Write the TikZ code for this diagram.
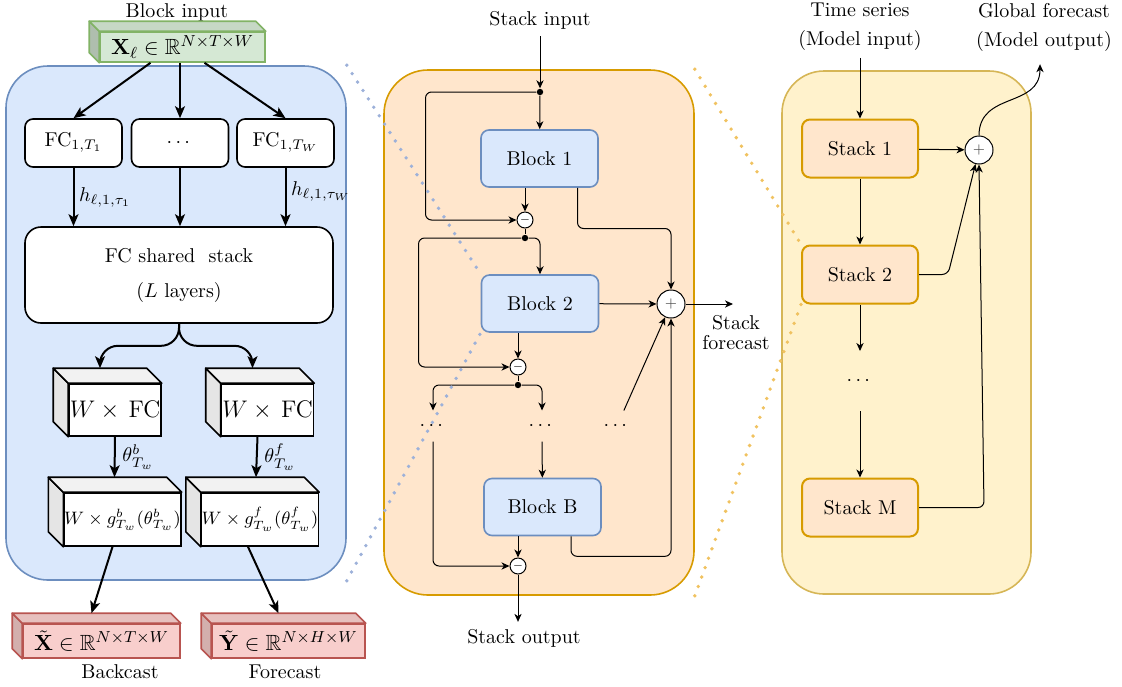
\documentclass[tikz,border=0pt]{standalone}
\usepackage[dvipsnames]{xcolor}
\usepackage{amsmath,amssymb}
\usetikzlibrary{arrows.meta,positioning}

\definecolor{bluefill}{HTML}{DAE8FC}
\definecolor{blueline}{HTML}{6C8EBF}
\definecolor{orangefill}{HTML}{FFE6CC}
\definecolor{orangeline}{HTML}{D79B00}
\definecolor{yellowfill}{HTML}{FFF2CC}
\definecolor{yellowline}{HTML}{D6B656}
\definecolor{greenfill}{HTML}{D5E8D4}
\definecolor{greenline}{HTML}{82B366}
\definecolor{redfill}{HTML}{F8CECC}
\definecolor{redline}{HTML}{B85450}
\definecolor{bluedot}{HTML}{9DB1D9}
\definecolor{orangedot}{HTML}{F0C260}

\begin{document}
\begin{tikzpicture}[x=0.5pt,y=-0.5pt,line width=0.5pt,
    >={Stealth[length=4pt,width=3.6pt,inset=1.2pt]},
    panel/.style={draw,rounded corners=21pt,line width=0.8pt,inner sep=0pt},
    fc node/.style={draw,fill=white,line width=0.8pt,rounded corners=4pt,minimum width=48.5pt,minimum height=24pt,inner sep=0pt},
    cube front/.style={draw,fill=white,line width=0.8pt,inner sep=0pt,minimum width=#1},
    block node/.style={draw=blueline,fill=bluefill,line width=0.8pt,rounded corners=4pt,minimum width=58.5pt,minimum height=28.5pt},
    stack node/.style={draw=orangeline,fill=orangefill,line width=1pt,rounded corners=4pt,minimum width=58pt,minimum height=29pt},
    diff node/.style={circle,draw,fill=white,inner sep=0pt,minimum size=8pt,font=\tiny},
    sum node/.style={circle,draw,fill=white,inner sep=0pt,minimum size=14pt,font=\scriptsize,text=black!70},
    joint node/.style={circle,fill=black,inner sep=0pt,minimum size=3.2pt},
    dots node/.style={inner sep=0pt,minimum height=15pt,minimum width=10pt},
    big arrow/.style={-{Stealth[length=6pt,width=5pt,inset=1.5pt]},line width=1pt},
    dotted link/.style={line width=1.9pt,line cap=round,dash pattern=on 0pt off 5pt}]

\useasboundingbox (0,0) rectangle (1122,686);

% panels
\node[panel,draw=blueline,fill=bluefill,minimum width=170pt,minimum height=257pt] (lp) at (176,323) {};
\node[panel,draw=orangeline,fill=orangefill,minimum width=155pt,minimum height=262.5pt,rounded corners=22pt] (mp) at (539,332.5) {};
\node[panel,draw=yellowline,fill=yellowfill,minimum width=124.5pt,minimum height=261.5pt] (rp) at (906.5,332.5) {};

% block (left)
\node (bil) at (177,12) {Block input};
\node[cube front=82.5pt,minimum height=15pt,draw=greenline,fill=greenfill,font=\fontsize{11}{13}\selectfont] (bin) at (182.5,47) {$\mathbf{X}_\ell\in\mathbb{R}^{N\times T\times W}$};
\node[fc node] (fc1) at (73.5,143) {$\mathrm{FC}_{1,T_1}$};
\node[fc node] (fcd) at (180,143) {$\cdots$};
\node[fc node] (fcw) at (285.5,143) {$\mathrm{FC}_{1,T_W}$};
\node[fc node,rounded corners=8pt,minimum width=154pt,minimum height=48pt,align=center] (shared) at (179,275) {FC shared~ stack\\[5.5pt]($L$ layers)};
\node[cube front=46pt,minimum height=26pt,font=\large] (wfcb) at (115,410) {$W\times{}$\,FC};
\node[cube front=46pt,minimum height=26pt,font=\large] (wfcf) at (267.5,410) {$W\times{}$\,FC};
\node[cube front=55.5pt,minimum height=26.5pt,font=\small] (gb) at (122.5,519.5) {$W\times g^b_{T_w}(\theta^b_{T_w})$};
\node[cube front=58pt,minimum height=26.5pt,font=\small] (gf) at (260,519.5) {$W\times g^f_{T_w}(\theta^f_{T_w})$};
\node[cube front=78.5pt,minimum height=17pt,draw=redline,fill=redfill,font=\fontsize{11}{13}\selectfont] (xtil) at (101.5,641) {$\tilde{\mathbf{X}}\in\mathbb{R}^{N\times T\times W}$};
\node[cube front=76.5pt,minimum height=17pt,draw=redline,fill=redfill,font=\fontsize{11}{13}\selectfont] (ytil) at (288.5,641) {$\tilde{\mathbf{Y}}\in\mathbb{R}^{N\times H\times W}$};
\node (bcl) at (120,672) {Backcast};
\node (fcl) at (285,672) {Forecast};

\foreach \n/\d/\sc/\tc/\lc in {bin/10/greenfill!82!black/greenfill!93!black/greenline,
    wfcb/15/gray!20/gray!10/black, wfcf/15/gray!20/gray!10/black,
    gb/15/gray!20/gray!10/black, gf/15/gray!20/gray!10/black,
    xtil/10/redfill!85!black/redfill!93!black/redline, ytil/10/redfill!85!black/redfill!93!black/redline}{
  \draw[draw=\lc,fill=\sc,line width=0.8pt,line join=round] (\n.north west) -- ++(-\d,-\d) -- ([shift={(-\d,-\d)}]\n.south west) -- (\n.south west) -- cycle;
  \draw[draw=\lc,fill=\tc,line width=0.8pt,line join=round] (\n.north west) -- ++(-\d,-\d) -- ([shift={(-\d,-\d)}]\n.north east) -- (\n.north east) -- cycle;
}

\draw[big arrow] ([xshift=-16pt]bin.south) -- (fc1.north);
\draw[big arrow] (bin.south -| fcd) -- (fcd);
\draw[big arrow] ([xshift=11pt]bin.south) -- (fcw.north);
\draw[big arrow] (fc1) -- (fc1 |- shared.north) node[midway,right,xshift=-1pt] {$h_{\ell,1,\tau_1}$};
\draw[big arrow] (fcd) -- (fcd |- shared.north);
\draw[big arrow] (fcw) -- (fcw |- shared.north) node[pos=0.4,right,xshift=-1pt] {$h_{\ell,1,\tau_W}$};
\draw[big arrow,rounded corners=9pt] (shared.south) -- ++(0,-11pt) -| ([shift={(-7.5pt,7.5pt)}]wfcb.north);
\draw[big arrow,rounded corners=9pt] (shared.south) -- ++(0,-11pt) -| ([shift={(-7.5pt,7.5pt)}]wfcf.north);
\draw[big arrow] (wfcb.south) -- ([shift={(-4pt,7.5pt)}]gb.north) node[midway,right] {$\theta^b_{T_w}$};
\draw[big arrow] ([xshift=-5pt]wfcf.south) -- ([shift={(-2pt,7.5pt)}]gf.north) node[midway,right] {$\theta^f_{T_w}$};
\draw[big arrow] ([xshift=-5pt]gb.south) -- ([shift={(-5pt,5pt)}]xtil.north);
\draw[big arrow] ([xshift=-6pt]gf.south) -- ([shift={(-5pt,5pt)}]ytil.north);

% stack (middle)
\node (sin) at (540,20) {Stack input};
\node[joint node] (j1) at (540,92) {};
\node[block node] (b1) at (539.5,158.5) {Block 1};
\node[diff node] (m1) at (525,220) {$-$};
\node[joint node] (j2) at (525,238) {};
\node[block node] (b2) at (540,303.5) {Block 2};
\node[sum node] (s1) at (671,304) {$+$};
\node[diff node] (m2) at (518,367) {$-$};
\node[joint node] (j3) at (518,385) {};
\node[dots node] (d1) at (433,426) {$\cdots$};
\node[dots node] (d2) at (542,426) {$\cdots$};
\node[dots node] (d3) at (617,426) {$\cdots$};
\node[block node] (bB) at (542.5,507) {Block B};
\node[diff node] (m3) at (518,566) {$-$};
\node (sout) at (524,638) {Stack output};
\node[align=center] (sfl) at (736,333) {Stack\\[-2pt]forecast};
\coordinate (sfo) at (733,304);

\draw[->] (sin) -- (j1);
\draw[->] (j1) -- (b1);
\draw[->,rounded corners=3pt] (j1) -| ([xshift=-45.5pt]m1.west) -- (m1);
\draw[->] (b1.south -| m1) -- (m1);
\draw[->,rounded corners=3pt] ([xshift=19pt]b1.south) |- ([yshift=30.5pt]s1.north) -- (s1);
\draw (m1) -- (j2);
\draw[->,rounded corners=3pt] (j2) -| (b2);
\draw[->,rounded corners=3pt] (j2) -| ([xshift=-45.5pt]m2.west) -- (m2);
\draw[->] (b2) -- (s1);
\draw[->] (s1) -- (sfo);
\draw[->] (b2.south -| m2) -- (m2);
\draw (m2) -- (j3);
\draw[->,rounded corners=3pt] (j3) -| (d1);
\draw[->,rounded corners=3pt] (j3) -| (d2);
\draw[->] (d3) -- (s1);
\draw[->] (d2) -- (bB);
\draw[->,rounded corners=3pt] (d1) |- (m3);
\draw[->] (bB.south -| m3) -- (m3);
\draw[->,rounded corners=3pt] ([xshift=14.25pt]bB.south) -- ++(0,-10pt) -| (s1.south);
\draw[->] (m3) -- (m3 |- sout.north);

% model (right)
\node[align=center] (ts) at (860,27) {Time series\\[2.5pt](Model input)};
\node[align=center] (gfl) at (1044,27) {Global forecast\\[2.5pt](Model output)};
\node[stack node] (st1) at (860,148.5) {Stack 1};
\node[sum node] (s2) at (979,150) {$+$};
\node[stack node] (st2) at (860,274.5) {Stack 2};
\node[dots node,minimum height=29.5pt] (sd) at (860,381) {$\cdots$};
\node[stack node] (stM) at (860,507.5) {Stack M};

\draw[->] (ts) -- (st1);
\draw[->] (st1) -- (s2);
\draw[->] (st1) -- (st2);
\draw[->,rounded corners=3pt] (st2.east) -- ++(14.5pt,0) -- (s2);
\draw[->] (st2) -- (sd);
\draw[->] (sd) -- (stM);
\draw[->,rounded corners=3pt] (stM.east) -- ++(32.5pt,0) -- (s2.south);
\draw[->] (s2.north) to[out=90,in=-90,looseness=1.2] ([xshift=-2pt,yshift=-3pt]gfl.south);

% zoom links
\draw[dotted link,bluedot] (lp.north east) -- (b2.north west);
\draw[dotted link,bluedot] (lp.south east) -- (b2.south west);
\draw[dotted link,orangedot] (mp.north east) -- (st2.north west);
\draw[dotted link,orangedot] (mp.south east) -- (st2.south west);
\end{tikzpicture}
\end{document}
